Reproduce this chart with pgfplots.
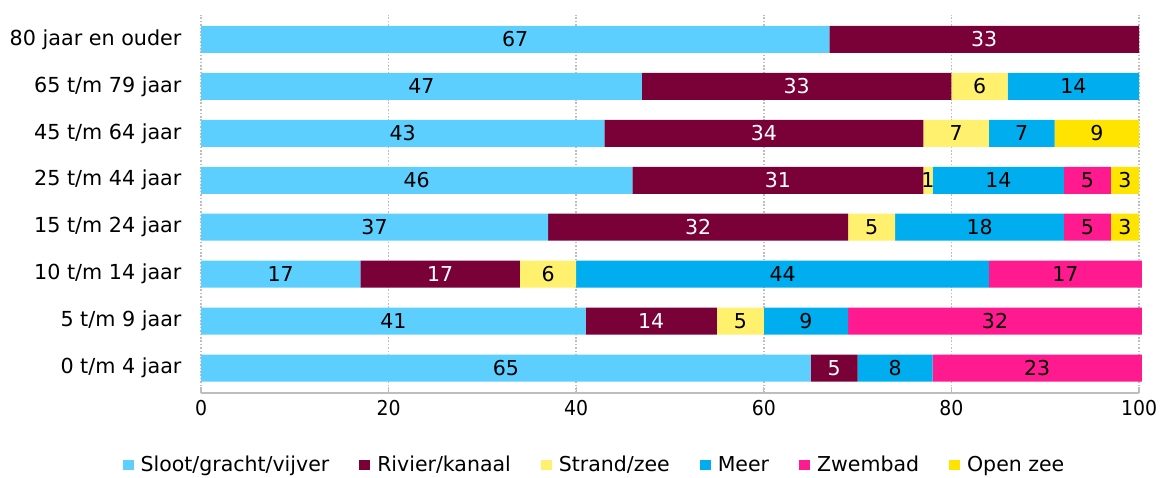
\documentclass[border=0pt]{standalone}
\usepackage{pgfplots}
\usepackage{pgfplotstable}
\pgfplotsset{compat=1.18}
\usepackage{fontspec}
\setmainfont{DejaVu Sans}
\newfontfamily\condensed[FakeStretch=0.92]{DejaVu Sans}
\definecolor{csloot}{HTML}{5CCFFF}
\definecolor{crivier}{HTML}{7A0038}
\definecolor{cstrand}{HTML}{FFF06E}
\definecolor{cmeer}{HTML}{00ADEE}
\definecolor{czwem}{HTML}{FF1A8F}
\definecolor{copen}{HTML}{FFE400}
\definecolor{gridgrey}{HTML}{BDBDBD}

\pgfplotstableread{
y sloot rivier strand meer zwembad openzee
0 65 5 0 8 22.3 0
1 41 14 5 9 31.3 0
2 17 17 6 44 16.3 0
3 37 32 5 18 5 3
4 46 31 1 14 5 3
5 43 34 7 7 0 9
6 47 33 6 14 0 0
7 67 33 0 0 0 0
}\data

\pgfplotstableread{
x y label
33.5 7 67
23.5 6 47
83 6 6
93 6 14
21.5 5 43
80.5 5 7
87.5 5 7
95.5 5 9
23 4 46
77.5 4 1
85 4 14
94.5 4 5
98.5 4 3
18.5 3 37
71.5 3 5
83 3 18
94.5 3 5
98.5 3 3
8.5 2 17
37 2 6
62 2 44
92.15 2 17
20.5 1 41
57.5 1 5
64.5 1 9
84.65 1 32
32.5 0 65
74 0 8
89.15 0 23
}\blacklabels

\pgfplotstableread{
x y label
83.5 7 33
63.5 6 33
60 5 34
61.5 4 31
53 3 32
25.5 2 17
48 1 14
67.5 0 5
}\whitelabels

\begin{document}
\begin{tikzpicture}
\useasboundingbox (0,0) rectangle (1161pt,478pt);
\begin{axis}[
  at={(201pt,85pt)}, anchor=south west,
  scale only axis, width=938pt, height=378pt,
  xbar stacked, bar width=27pt,
  xmin=0, xmax=100, ymin=-0.53, ymax=7.52,
  clip=false,
  axis y line=none,
  axis x line*=bottom,
  x axis line style={gridgrey, line width=1.2pt, -},
  xtick={0,20,40,60,80,100},
  xtick style={gridgrey, line width=1.2pt},
  tick align=inside,
  major tick length=6pt,
  xmajorgrids,
  major grid style={gridgrey, line width=1.6pt, dash pattern=on 1.6pt off 1.8pt},
  xticklabel style={font=\condensed\fontsize{20.5}{24}\selectfont, /pgf/number format/assume math mode=true, yshift=-4pt},
  ytick=\empty,
  legend columns=6,
  legend style={draw=none, fill=none, at={(0.4195,-0.19)}, anchor=center,
    font=\fontsize{20.5}{24}\selectfont,
    /tikz/every even column/.append style={column sep=28pt},
    /tikz/every odd column/.append style={column sep=5pt}},
]
\addplot[fill=csloot, draw=none, legend image code/.code={\fill[csloot] (0pt,-5pt) rectangle (11pt,5pt);}] table[x=sloot, y=y] {\data};
\addplot[fill=crivier, draw=none, legend image code/.code={\fill[crivier] (0pt,-5pt) rectangle (11pt,5pt);}] table[x=rivier, y=y] {\data};
\addplot[fill=cstrand, draw=none, legend image code/.code={\fill[cstrand] (0pt,-5pt) rectangle (11pt,5pt);}] table[x=strand, y=y] {\data};
\addplot[fill=cmeer, draw=none, legend image code/.code={\fill[cmeer] (0pt,-5pt) rectangle (11pt,5pt);}] table[x=meer, y=y] {\data};
\addplot[fill=czwem, draw=none, legend image code/.code={\fill[czwem] (0pt,-5pt) rectangle (11pt,5pt);}] table[x=zwembad, y=y] {\data};
\addplot[fill=copen, draw=none, legend image code/.code={\fill[copen] (0pt,-5pt) rectangle (11pt,5pt);}] table[x=openzee, y=y] {\data};
\legend{Sloot/gracht/vijver, Rivier/kanaal, Strand/zee, Meer, Zwembad, Open zee}
\end{axis}
\begin{axis}[
  at={(201pt,85pt)}, anchor=south west,
  scale only axis, width=938pt, height=378pt,
  xmin=0, xmax=100, ymin=-0.53, ymax=7.52,
  clip=false,
  axis lines*=left,
  axis line style={draw=none},
  ytick={0,...,7},
  yticklabels={0 t/m 4 jaar, 5 t/m 9 jaar, 10 t/m 14 jaar, 15 t/m 24 jaar, 25 t/m 44 jaar, 45 t/m 64 jaar, 65 t/m 79 jaar, 80 jaar en ouder},
  yticklabel style={font=\fontsize{20.7}{24}\selectfont, anchor=east, xshift=-16pt},
  ytick style={draw=none},
  xtick=\empty,
]
\addplot[only marks, mark=none, nodes near coords, point meta=explicit symbolic,
  nodes near coords style={anchor=center, text=black, font=\fontsize{20.5}{24}\selectfont}]
  table[x=x, y=y, meta=label] {\blacklabels};
\addplot[only marks, mark=none, nodes near coords, point meta=explicit symbolic,
  nodes near coords style={anchor=center, text=white, font=\fontsize{20.5}{24}\selectfont}]
  table[x=x, y=y, meta=label] {\whitelabels};
\end{axis}
\end{tikzpicture}
\end{document}
